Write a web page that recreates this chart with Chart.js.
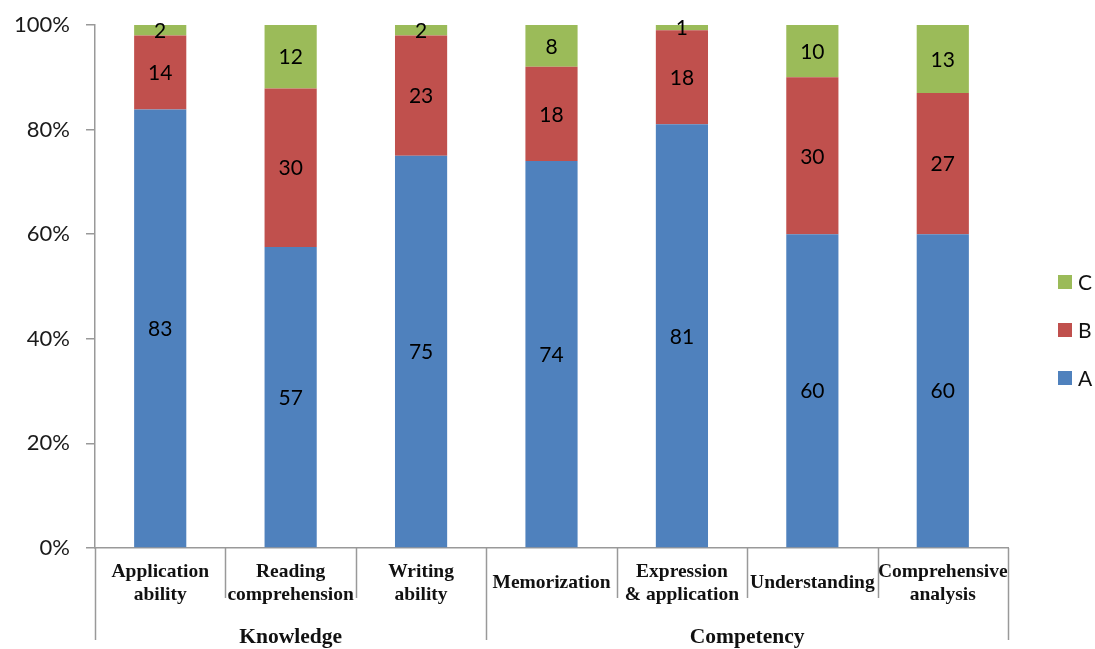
<!DOCTYPE html>
<html>
<head>
<meta charset="utf-8">
<script src="https://cdn.jsdelivr.net/npm/chart.js@4"></script>
<style>
  html, body { margin: 0; padding: 0; background: #fff; }
  #wrap { width: 1095px; height: 649px; }
</style>
</head>
<body>
<div id="wrap"><canvas id="stackChart"></canvas></div>
<script>
// category labels (split into lines) and their groups
const categories = [
  ['Application', 'ability'],
  ['Reading', 'comprehension'],
  ['Writing', 'ability'],
  ['Memorization'],
  ['Expression', '& application'],
  ['Understanding'],
  ['Comprehensive', 'analysis']
];
const groupNames = ['Knowledge', 'Competency'];
const groupSizes = [3, 4];

// series values (counts shown on the bars)
const seriesA = [83, 57, 75, 74, 81, 60, 60];
const seriesB = [14, 30, 23, 18, 18, 30, 27];
const seriesC = [2, 12, 2, 8, 1, 10, 13];

const yTicks = [0, 20, 40, 60, 80, 100];

const totals = seriesA.map((v, i) => v + seriesB[i] + seriesC[i]);
const toPct = arr => arr.map((v, i) => v / totals[i] * 100);

const labelFont = '21px Lato';
const catFont = 'bold 19.5px "Liberation Serif"';
const lineColor = '#999';

const extras = {
  id: 'extras',
  afterDatasetsDraw(chart) {
    const ctx = chart.ctx;
    const x = chart.scales.x;
    const area = chart.chartArea;
    const n = categories.length;
    const w = (area.right - area.left) / n;

    // values inside each segment
    ctx.save();
    ctx.font = labelFont;
    ctx.fillStyle = '#000';
    ctx.textAlign = 'center';
    ctx.textBaseline = 'middle';
    chart.data.datasets.forEach((ds, d) => {
      chart.getDatasetMeta(d).data.forEach((bar, i) => {
        ctx.fillText(String(ds.raw[i]), bar.x, (bar.y + bar.base) / 2 + 1);
      });
    });
    ctx.restore();

    // category labels
    ctx.save();
    ctx.font = catFont;
    ctx.fillStyle = '#111';
    ctx.textAlign = 'center';
    ctx.textBaseline = 'middle';
    categories.forEach((lines, i) => {
      const cx = x.getPixelForValue(i);
      if (lines.length === 1) {
        ctx.fillText(lines[0], cx, area.bottom + 35);
      } else {
        ctx.fillText(lines[0], cx, area.bottom + 24);
        ctx.fillText(lines[1], cx, area.bottom + 47);
      }
    });

    // separators and group labels
    ctx.strokeStyle = lineColor;
    ctx.lineWidth = 1.5;
    let start = 0;
    const groupEnds = [0];
    groupSizes.forEach(s => { start += s; groupEnds.push(start); });
    for (let i = 0; i <= n; i++) {
      const px = Math.round(area.left + i * w) + 0.5;
      const long = groupEnds.includes(i);
      ctx.beginPath();
      ctx.moveTo(px, area.bottom);
      ctx.lineTo(px, area.bottom + (long ? 92 : 50));
      ctx.stroke();
    }
    ctx.font = 'bold 21.5px "Liberation Serif"';
    groupNames.forEach((g, k) => {
      const gx = area.left + (groupEnds[k] + groupEnds[k + 1]) / 2 * w;
      ctx.fillText(g, gx, area.bottom + 89);
    });
    ctx.restore();

    // legend (C, B, A top to bottom)
    ctx.save();
    ctx.font = labelFont;
    ctx.textBaseline = 'middle';
    ctx.textAlign = 'left';
    const order = [2, 1, 0];
    order.forEach((d, k) => {
      const ds = chart.data.datasets[d];
      const ly = 282 + k * 48;
      ctx.fillStyle = ds.backgroundColor;
      ctx.fillRect(1058, ly - 7, 14, 14);
      ctx.fillStyle = '#111';
      ctx.fillText(ds.label, 1078, ly + 1);
    });
    ctx.restore();
  }
};

new Chart(document.getElementById('stackChart'), {
  type: 'bar',
  data: {
    labels: categories.map(c => c.join(' ')),
    datasets: [
      { label: 'A', data: toPct(seriesA), raw: seriesA, backgroundColor: '#4F81BD' },
      { label: 'B', data: toPct(seriesB), raw: seriesB, backgroundColor: '#C0504D' },
      { label: 'C', data: toPct(seriesC), raw: seriesC, backgroundColor: '#9BBB59' }
    ]
  },
  options: {
    responsive: true,
    maintainAspectRatio: false,
    animation: false,
    layout: { padding: { left: 0, right: 87, top: 25, bottom: 0 } },
    datasets: { bar: { categoryPercentage: 1, barPercentage: 0.4 } },
    plugins: { legend: { display: false }, tooltip: { enabled: false } },
    scales: {
      x: {
        stacked: true,
        ticks: { display: false },
        grid: { display: false, drawTicks: false },
        border: { display: true, color: lineColor, width: 1.5 },
        afterFit(scale) { scale.height = 101; }
      },
      y: {
        stacked: true,
        min: 0,
        max: 100,
        afterBuildTicks(scale) { scale.ticks = yTicks.map(v => ({ value: v })); },
        ticks: {
          padding: 16,
          color: '#1a1a1a',
          font: { family: 'Lato', size: 22 },
          callback: v => v + '%'
        },
        grid: { drawOnChartArea: false, drawTicks: true, tickLength: 9, color: lineColor, lineWidth: 1.5 },
        border: { display: true, color: lineColor, width: 1.5 },
        afterFit(scale) {
          scale.width = 95;
          scale.paddingTop = 0;
          scale.paddingBottom = 0;
        }
      }
    }
  },
  plugins: [extras]
});
</script>
</body>
</html>
